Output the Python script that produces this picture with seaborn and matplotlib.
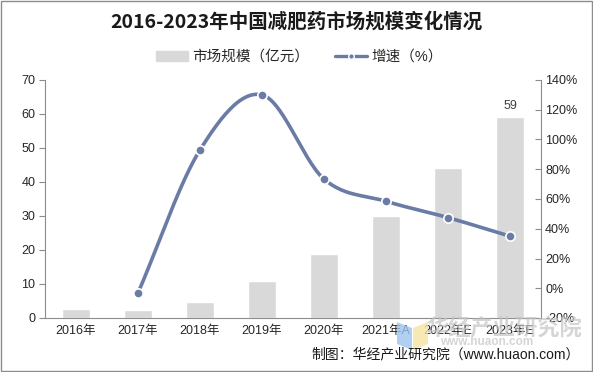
import numpy as np
import pandas as pd
import matplotlib
matplotlib.use("Agg")
import matplotlib.pyplot as plt
import seaborn as sns
from matplotlib.patches import Rectangle, Polygon
from matplotlib.lines import Line2D
from matplotlib.ticker import FuncFormatter

# data
years = ["2016年", "2017年", "2018年", "2019年", "2020年", "2021年A", "2022年E", "2023年E"]
market_size = [2.6, 2.3, 4.7, 10.9, 18.8, 30.0, 44.1, 59.0]
growth_years = years[1:]
growth_rate = [-3.2, 93.0, 130.0, 73.4, 58.5, 47.5, 35.0]

bar_color = "#d9d9d9"
line_color = "#6a7ba5"

sns.set_style("white")
plt.rcParams["font.family"] = ["Liberation Sans", "Noto Sans CJK SC", "DejaVu Sans"]

df = pd.DataFrame({"year": years, "size": market_size})

fig = plt.figure(figsize=(5.93, 3.72), dpi=100)
ax = fig.add_axes([45 / 593, 1 - 318 / 372, (541 - 45) / 593, (318 - 80) / 372])

# watermark logo behind the chart
fig.patches.append(Polygon([[397 / 593, 1 - 322 / 372], [412 / 593, 1 - 328 / 372],
                            [412 / 593, 1 - 350 / 372], [397 / 593, 1 - 344 / 372]],
                           closed=True, transform=fig.transFigure,
                           facecolor="#9cc3ee", edgecolor="none", alpha=0.8))
fig.patches.append(Polygon([[413 / 593, 1 - 328 / 372], [428 / 593, 1 - 322 / 372],
                            [428 / 593, 1 - 344 / 372], [413 / 593, 1 - 350 / 372]],
                           closed=True, transform=fig.transFigure,
                           facecolor="#f7e3a2", edgecolor="none", alpha=0.8))

sns.barplot(data=df, x="year", y="size", color=bar_color, width=0.45,
            saturation=1, ax=ax)
ax.set_ylim(0, 70)
ax.set_yticks(range(0, 71, 10))
ax.set_xlim(-0.5, len(years) - 0.5)
ax.set_xlabel("")
ax.set_ylabel("")
ax.patch.set_alpha(0)
for s in ["top", "right"]:
    ax.spines[s].set_visible(False)
for s in ["left", "bottom"]:
    ax.spines[s].set_color("#8c8c8c")
    ax.spines[s].set_linewidth(0.8)
ax.tick_params(axis="y", direction="out", length=4, color="#8c8c8c",
               labelsize=9, pad=3, labelcolor="#262626")
ax.tick_params(axis="x", length=0, labelsize=9, pad=5, labelcolor="#262626")
# boundary ticks on the x axis
ax.set_xticks(np.arange(-0.5, len(years), 1), minor=True)
ax.tick_params(axis="x", which="minor", direction="out", length=4, color="#8c8c8c")
ax.annotate(f"{market_size[-1]:.0f}", (len(years) - 1, market_size[-1]),
            xytext=(0, 4), textcoords="offset points", ha="center",
            va="bottom", fontsize=9, color="#404040")

# growth line on the right axis, smoothed like an Excel curve
ax2 = ax.twinx()
xs = np.array([years.index(y) for y in growth_years], dtype=float)
ys = np.array(growth_rate, dtype=float)
px = np.concatenate([[2 * xs[0] - xs[1]], xs, [2 * xs[-1] - xs[-2]]])
py = np.concatenate([[2 * ys[0] - ys[1]], ys, [2 * ys[-1] - ys[-2]]])
cx, cy = [], []
t = np.linspace(0, 1, 30)
for i in range(1, len(px) - 2):
    for arr, out in ((px, cx), (py, cy)):
        p0, p1, p2, p3 = arr[i - 1], arr[i], arr[i + 1], arr[i + 2]
        out.extend(0.5 * (2 * p1 + (-p0 + p2) * t
                          + (2 * p0 - 5 * p1 + 4 * p2 - p3) * t ** 2
                          + (-p0 + 3 * p1 - 3 * p2 + p3) * t ** 3))
ax2.plot(cx, cy, color=line_color, lw=2.6, solid_capstyle="round", zorder=3)
sns.scatterplot(x=xs, y=ys, ax=ax2, color=line_color, s=45,
                edgecolor="white", linewidth=1.2, zorder=4)
ax2.set_ylim(-20, 140)
ax2.set_yticks(range(-20, 141, 20))
ax2.yaxis.set_major_formatter(FuncFormatter(lambda v, p: f"{v:.0f}%"))
for s in ["top", "left", "bottom"]:
    ax2.spines[s].set_visible(False)
ax2.spines["right"].set_color("#8c8c8c")
ax2.spines["right"].set_linewidth(0.8)
ax2.tick_params(axis="y", direction="in", length=4, color="#8c8c8c",
                labelsize=9, pad=3, labelcolor="#262626")

# title and legend
fig.text(0.5, 1 - 22 / 372, "2016-2023年中国减肥药市场规模变化情况", ha="center",
         va="center", fontsize=14, fontweight="bold", color="#1a1a1a",
         family=["Noto Sans CJK SC", "DejaVu Sans"])
handles = [Rectangle((0, 0), 1, 1, color=bar_color),
           Line2D([0], [0], color=line_color, lw=2.4, marker="o", markersize=4,
                  markeredgecolor="white")]
fig.legend(handles, ["市场规模（亿元）", "增速（%）"], loc="center",
           bbox_to_anchor=(0.505, 1 - 57 / 372), ncol=2, frameon=False,
           fontsize=10.5, handlelength=2.2, columnspacing=1.8, handletextpad=0.3)

# watermark and source
fig.text(504 / 593, 1 - 328 / 372, "华经产业研究院", ha="center", va="center",
         fontsize=16, color="#c4c4c4", alpha=0.7, fontweight="bold",
         family=["Noto Sans CJK SC"])
fig.text(487 / 593, 1 - 342 / 372, "www.huaon.com", ha="center", va="center",
         fontsize=8.5, color="#c4c4c4", alpha=0.7, fontweight="bold")
fig.text(580 / 593, 1 - 354 / 372, "制图：华经产业研究院（www.huaon.com）", ha="right",
         va="center", fontsize=10, color="#1a1a1a")

fig.patches.append(Rectangle((0.002, 0.003), 0.996, 0.994, transform=fig.transFigure,
                             fill=False, edgecolor="#8c8c8c", linewidth=1))

fig.savefig("out.png", dpi=100)
